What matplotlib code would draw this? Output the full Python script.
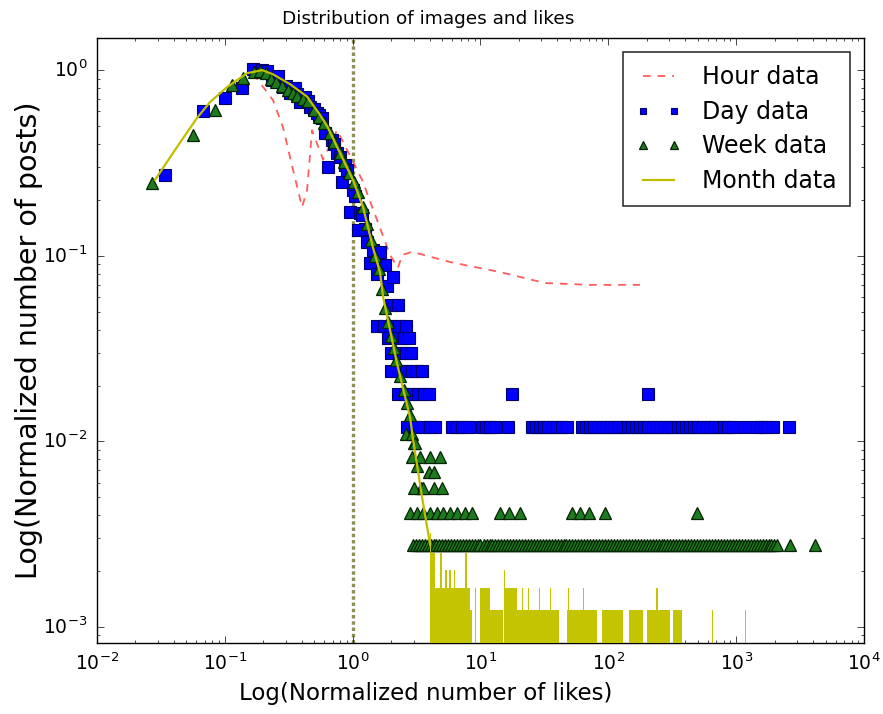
import matplotlib
matplotlib.use('Agg')
import matplotlib.pyplot as plt

plt.style.use('classic')
plt.rcParams['font.family'] = ['DejaVu Sans']
plt.rcParams['mathtext.fontset'] = 'dejavusans'
plt.rcParams['mathtext.default'] = 'regular'

# ---------------- data ----------------
hour_x = [0.166, 0.238, 0.285, 0.342, 0.402, 0.44, 0.481, 0.586, 0.755, 1.186, 1.50,
          1.96, 2.26, 2.44, 2.92, 5.78, 14.2, 32, 72, 177]
hour_y = [0.96, 0.69, 0.493, 0.289, 0.183, 0.226, 0.475, 0.33, 0.475, 0.256, 0.166,
          0.101, 0.086, 0.101, 0.105, 0.0925, 0.0817, 0.0713, 0.0697, 0.0697]

day_x = [0.034, 0.0675, 0.100, 0.136, 0.166, 0.195, 0.214, 0.234, 0.261, 0.285, 0.30,
         0.324, 0.354, 0.37, 0.388, 0.424, 0.45, 0.464, 0.50, 0.526, 0.55, 0.576, 0.608,
         0.642, 0.69, 0.72, 0.755, 0.79, 0.826, 0.873, 0.91, 0.955, 1.006, 1.05, 1.10,
         1.15, 1.19, 1.25, 1.30, 1.37, 1.44, 1.55, 1.64, 1.79, 1.86, 2.07, 1.55,
         2.0, 2.25, 1.55, 1.75, 2.0, 2.3, 2.6, 1.9, 2.2, 2.5, 2.75, 2.0, 2.3, 2.6, 2.85,
         2.0, 2.3, 2.6, 2.9, 3.2, 3.5, 2.25, 2.55, 2.85, 3.25, 3.6, 3.95, 17.7, 205]
day_y = [0.272, 0.60, 0.707, 0.80, 1.01, 1.0, 0.99, 0.88, 0.93, 0.81, 0.82,
         0.75, 0.80, 0.74, 0.67, 0.72, 0.68, 0.63, 0.62, 0.59, 0.57, 0.55, 0.46,
         0.30, 0.42, 0.40, 0.357, 0.34, 0.249, 0.308, 0.29, 0.172, 0.226, 0.21, 0.137,
         0.17, 0.166, 0.14, 0.119, 0.0914, 0.107, 0.10, 0.105, 0.089, 0.069, 0.077, 0.08,
         0.054, 0.054, 0.042, 0.042, 0.042, 0.042, 0.042, 0.036, 0.036, 0.036, 0.036,
         0.030, 0.030, 0.030, 0.030, 0.024, 0.024, 0.024, 0.024, 0.024, 0.024,
         0.018, 0.018, 0.018, 0.018, 0.018, 0.018, 0.018, 0.018]
day_row_x = [2.65, 3.08, 3.57, 4.0, 4.4, 5.96, 6.5, 7.13, 8.08, 10.2, 11.0, 11.8, 13.0,
             16.3, 25.2, 27.2, 29.3, 31.6, 34.0, 36.7, 39.5, 43.2, 47.3, 62.0, 66.8,
             72.1, 77.7, 83.8, 90.3, 97.3, 105, 113, 122, 131, 142, 153, 165, 177, 191,
             206, 222, 239, 258, 278, 300, 323, 349, 376, 405, 437, 471, 507, 547, 589,
             635, 685, 738, 796, 870, 953, 1175, 1452, 1570, 1686, 1959, 2570]
day_row_level = 0.012

week_x = [0.0269, 0.0564, 0.0838, 0.114, 0.139, 0.17, 0.19, 0.21, 0.23, 0.25, 0.28, 0.31,
          0.34, 0.37, 0.41, 0.45, 0.5, 0.55, 0.6, 0.66, 0.72, 0.79, 0.86, 0.94, 1.02,
          1.1, 1.2, 1.3, 1.4, 1.5, 1.6, 1.7, 1.8, 1.9, 2.0, 2.1, 2.2, 2.35, 2.5, 2.65,
          2.8, 3.0, 3.2, 3.4, 2.6, 2.9, 3.1, 2.89, 3.36, 4.03, 4.84, 3.93, 4.3,
          3.0, 3.57, 4.29, 5.0,
          2.81, 3.17, 3.57, 4.03, 4.55, 5.13, 5.78, 6.52, 7.57, 8.54, 14.2, 16.6, 20.4,
          51.8, 60.5, 70, 94.4, 492]
week_y = [0.246, 0.447, 0.609, 0.83, 0.906, 0.98, 0.99, 0.96, 0.90, 0.86, 0.82, 0.78,
          0.75, 0.73, 0.70, 0.68, 0.61, 0.56, 0.52, 0.46, 0.41, 0.36, 0.32, 0.28, 0.25,
          0.22, 0.184, 0.149, 0.122, 0.10, 0.085, 0.066, 0.052, 0.044, 0.037, 0.032,
          0.0275, 0.0224, 0.019, 0.016, 0.0138, 0.0098, 0.0074, 0.0056, 0.011, 0.011,
          0.0098, 0.00824, 0.00824, 0.00824, 0.00824, 0.00684, 0.00684,
          0.00561, 0.00561, 0.00561, 0.00561,
          0.00411, 0.00411, 0.00411, 0.00411, 0.00411, 0.00411, 0.00411, 0.00411,
          0.00411, 0.00411, 0.00411, 0.00411, 0.00411, 0.00411, 0.00411, 0.00411,
          0.00411, 0.00411]
week_row_x = [2.97, 3.12, 3.3, 3.47, 3.65, 3.86, 4.07, 4.3, 4.52, 4.76, 5.03, 5.3, 5.6,
              5.9, 6.22, 6.55, 6.92, 7.3, 7.7, 8.1, 8.55, 9.02, 9.5, 10.0, 10.6, 11.2,
              11.8, 12.4, 13.1, 13.8, 14.5, 15.3, 16.2, 17.1, 18.0, 19.0, 20.0, 21.1,
              22.3, 23.5, 24.8, 26.1, 27.6, 29.1, 30.7, 32.4, 34.1, 36.0, 38.0, 40.1,
              42.3, 44.6, 47.0, 49.6, 52.4, 55.2, 58.3, 61.5, 64.8, 68.4, 72.2, 76.1,
              80.3, 84.7, 89.4, 94.3, 99.5, 105, 111, 117, 123, 130, 137, 145, 153, 161,
              170, 179, 189, 200, 211, 222, 234, 247, 261, 275, 290, 306, 323, 341, 360,
              379, 400, 422, 445, 470, 496, 523, 552, 582, 614, 648, 683, 721, 761, 803,
              847, 893, 942, 994, 1049, 1106, 1167, 1231, 1299, 1370, 1446, 1525, 1609,
              1698, 1791, 1889, 1993, 2100, 2646, 4150]
week_row_level = 0.00277

month_x = [0.0284, 0.0407, 0.0605, 0.0766, 0.104, 0.149, 0.196, 0.238, 0.324, 0.44,
           0.55, 0.631, 0.797, 1.006, 1.205, 1.44, 1.64, 1.73, 2.22, 2.81, 2.97, 3.49,
           4.04]
month_y = [0.256, 0.371, 0.552, 0.673, 0.81, 0.963, 1.0, 0.95, 0.84, 0.72,
           0.58, 0.50, 0.357, 0.256, 0.183, 0.111, 0.0807, 0.060, 0.0264, 0.0135,
           0.0102, 0.005, 0.00277]
month_tail_start = [4.03, 4.10, 4.44, 4.86, 5.32, 5.70, 6.19, 7.61, 8.29, 9.0, 9.94,
                    11.8, 15.2, 15.6, 19.2, 21.0, 23.7, 27.6, 28.6, 35.0, 47.3, 48.5,
                    63.5, 88.9, 144, 200, 238, 323, 424, 645, 1175]
month_tail_end = [4.10, 4.44, 8.29, 5.00, 5.45, 5.85, 6.35, 7.80, 8.60, 9.2, 11.8,
                  15.1, 15.45, 19.2, 27.6, 21.4, 24.1, 40.8, 29.2, 35.6, 81.3, 49.5,
                  65.0, 131, 188, 305, 243, 376, 431, 656, 1195]
month_tail_level = [3.2e-3, 2.5e-3, 1.62e-3, 2.5e-3, 2.03e-3, 2.03e-3, 2.03e-3, 2.5e-3,
                    1.24e-3, 1.62e-3, 1.62e-3, 1.24e-3, 2.03e-3, 1.62e-3, 1.24e-3,
                    1.62e-3, 1.62e-3, 1.24e-3, 1.62e-3, 1.62e-3, 1.24e-3, 1.62e-3,
                    1.62e-3, 1.24e-3, 1.24e-3, 1.24e-3, 1.62e-3, 1.24e-3, 1.24e-3,
                    1.24e-3, 1.24e-3]

x_major_ticks = [1e-2, 1e-1, 1e0, 1e1, 1e2, 1e3, 1e4]
y_major_ticks = [1e-3, 1e-2, 1e-1, 1e0]

# ---------------- figure ----------------
fig = plt.figure(figsize=(8.83, 7.14), dpi=100, facecolor='white')
ax = fig.add_axes([97 / 883, 1 - 643 / 714, (864 - 97) / 883, (643 - 38) / 714])
ax.set_xscale('log')
ax.set_yscale('log')

ax.axvline(1.0, color='#8f8f58', lw=2.4, ls=(0, (2.5, 2.0)), zorder=1)

ax.plot(hour_x, hour_y, color='#ff3333', ls='--', lw=1.3, alpha=0.8,
        dashes=(5.5, 5), label='Hour data', zorder=2)
ax.plot(day_x + day_row_x, day_y + [day_row_level] * len(day_row_x), 's', color='b',
        ms=8, mec='#00006a', mew=0.8, ls='none', label='Day data', zorder=3)
ax.plot(week_x + week_row_x, week_y + [week_row_level] * len(week_row_x), '^',
        color='#1f7a1f', ms=8.5, mec='#002200', mew=0.9, ls='none',
        label='Week data', zorder=4)
ax.plot(month_x, month_y, '-', color='#bfbf00', lw=1.6, label='Month data', zorder=5)
ax.bar(month_tail_start, month_tail_level,
       width=[e - s for s, e in zip(month_tail_start, month_tail_end)],
       align='edge', color='#c4c400', edgecolor='none', linewidth=0, zorder=5)

ax.set_xticks(x_major_ticks)
ax.set_yticks(y_major_ticks)
ax.set_xlim(1e-2, 1e4)
ax.set_ylim(8.2e-4, 1.49)

ax.tick_params(axis='both', which='both', direction='in', top=True, right=True,
               labelsize=13.5, pad=7)
ax.tick_params(which='major', length=5)
ax.tick_params(which='minor', length=2.5)

ax.set_title('Distribution of images and likes', fontsize=13.3, pad=10)
ax.title.set_x(0.432)
ax.set_xlabel('Log(Normalized number of likes)', fontsize=16.5)
ax.xaxis.set_label_coords(0.428, -0.065, transform=ax.transAxes)
ax.xaxis.label.set_va('top')
ax.set_ylabel('Log(Normalized number of posts)', fontsize=20.5)
ax.yaxis.set_label_coords(-0.071, 0.5, transform=ax.transAxes)

leg = ax.legend(loc='upper right', numpoints=2, markerscale=0.6, fontsize=17,
                handlelength=1.9, handletextpad=0.9, borderpad=0.55,
                labelspacing=0.45, fancybox=False, borderaxespad=0.6)
leg.get_frame().set_edgecolor('#333333')
leg.get_frame().set_linewidth(1.2)

fig.savefig('out.png', dpi=100, facecolor='white')
